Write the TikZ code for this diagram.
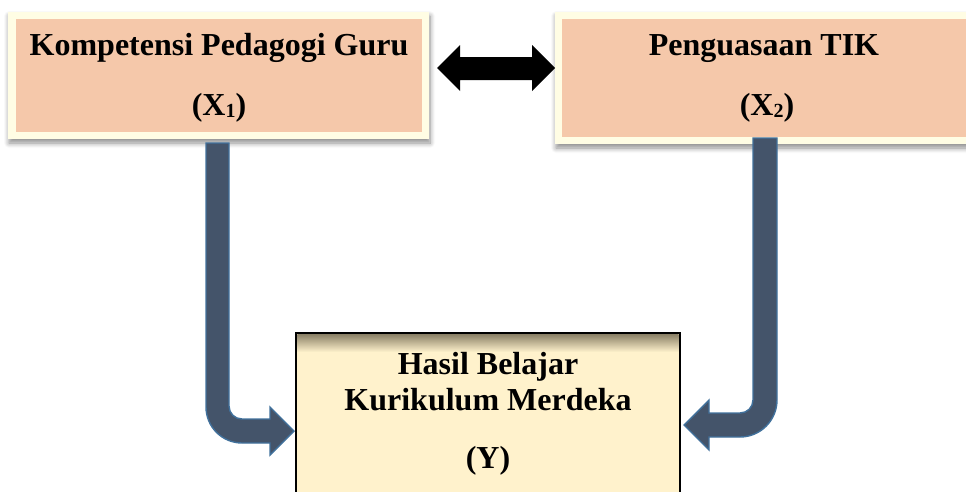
\documentclass[tikz,border=0pt]{standalone}
\usepackage{fontspec}
\setmainfont{Liberation Serif}
\usetikzlibrary{shadows.blur}
\definecolor{orfill}{RGB}{245,200,170}
\definecolor{creamb}{RGB}{255,253,228}
\definecolor{yfill}{RGB}{255,242,204}
\definecolor{arrfill}{RGB}{68,84,106}
\definecolor{arrline}{RGB}{65,113,156}
\definecolor{yshade}{RGB}{140,130,104}
\tikzset{
  outerbox/.style={draw=none, fill=creamb, inner sep=0pt,
    blur shadow={shadow xshift=1pt, shadow yshift=-4pt, shadow blur steps=8, shadow blur radius=5pt, shadow opacity=45}},
  innerbox/.style={draw=none, fill=orfill, inner sep=0pt},
  ybox/.style={draw=black, line width=2.8pt, fill=yfill, inner sep=0pt},
  lbl/.style={anchor=base, inner sep=0pt, font=\fontsize{32}{36}\selectfont\bfseries},
  bentarrow/.style={fill=arrfill, draw=arrline, line width=1.4pt, line join=miter},
  dblarrow/.style={fill=black, draw=none}
}
\newcommand{\subsm}[1]{{\fontsize{20}{20}\selectfont\raisebox{-2pt}{#1}}}
\begin{document}
\begin{tikzpicture}[x=1pt,y=-1pt]
\useasboundingbox (0,0) rectangle (966,491);
% box 1
\node[outerbox, minimum width=421pt, minimum height=127pt] (o1) at (218.5,75.5) {};
\node[innerbox, minimum width=406pt, minimum height=113pt] (b1) at (219,75.5) {};
\node[lbl] (t1a) at (219,55) {Kompetensi Pedagogi Guru};
\node[lbl] (t1b) at (219,115) {(X\subsm{1})};
% box 2
\node[outerbox, minimum width=425pt, minimum height=132pt] (o2) at (767.5,78) {};
\node[innerbox, minimum width=418pt, minimum height=118pt] (b2) at (771,78) {};
\node[lbl] (t2a) at (764,55) {Penguasaan TIK};
\node[lbl] (t2b) at (767,115) {(X\subsm{2})};
% box Y
\node[ybox, minimum width=384pt, minimum height=187pt] (by) at (488,426.5) {};
\shade[top color=yshade, bottom color=yfill] (297.4,334.4) rectangle (678.6,352);
\node[lbl] (ty1) at (488,374) {Hasil Belajar};
\node[lbl] (ty2) at (488,410) {Kurikulum Merdeka};
\node[lbl] (ty3) at (488,468) {(Y)};
% double arrow between X1 and X2
\draw[dblarrow] (437,68) -- (460,45) -- (460,57) -- (532,57) -- (532,45) -- (555,68)
  -- (532,91) -- (532,80) -- (460,80) -- (460,91) -- cycle;
% bent arrow X1 -> Y
\draw[bentarrow] (206,143) -- (206,407) .. controls (206,426.9) and (222.1,443) .. (242,443)
  -- (270,443) -- (270,455) -- (294,431) -- (270,407) -- (270,419) -- (242,419)
  .. controls (234.8,419) and (229,413.2) .. (229,406) -- (229,143) -- cycle;
% bent arrow X2 -> Y
\draw[bentarrow] (753,138) -- (777,138) -- (777,400) .. controls (777,420.4) and (760.4,437) .. (740,437)
  -- (709,437) -- (709,450) -- (684,425) -- (709,400) -- (709,413) -- (740,413)
  .. controls (747.2,413) and (753,407.2) .. (753,400) -- cycle;
\end{tikzpicture}
\end{document}
